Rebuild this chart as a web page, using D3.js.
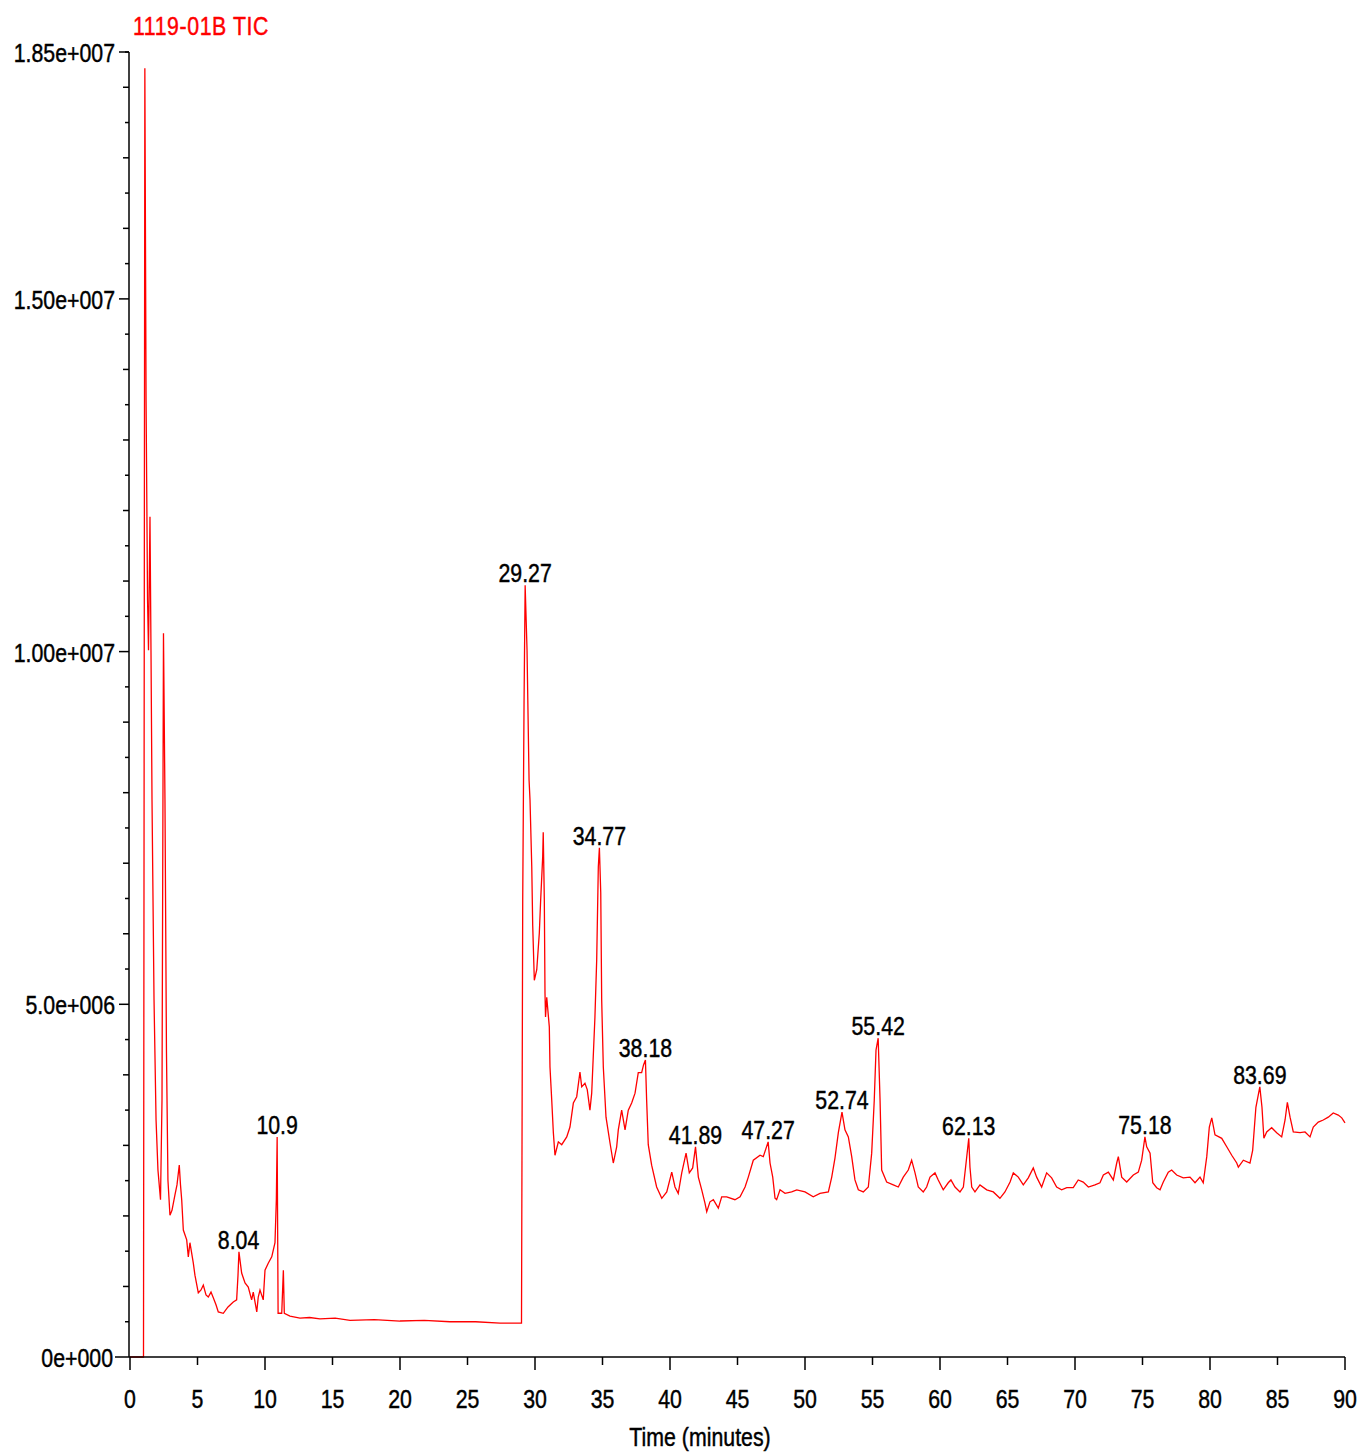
<!DOCTYPE html>
<html>
<head>
<meta charset="utf-8">
<script src="https://cdn.jsdelivr.net/npm/d3@7"></script>
<style>
  html, body { margin: 0; padding: 0; background: #fff; }
  svg text { font-family: "Liberation Sans", Arial, sans-serif; }
</style>
</head>
<body>
<svg id="chart" width="1361" height="1452"></svg>
<script>
// ---- data ----
const chartTitle = "1119-01B TIC";
const xAxisTitle = "Time (minutes)";
const xTickValues = [0,5,10,15,20,25,30,35,40,45,50,55,60,65,70,75,80,85,90];
const yTickValues = [0, 5.0e6, 1.0e7, 1.5e7, 1.85e7];
const yTickLabels = ["0e+000", "5.0e+006", "1.00e+007", "1.50e+007", "1.85e+007"];
// [time (min), intensity (counts)]
const trace = [
[0,0],[1.00,0],[1.10,18.27e6],[1.19,13.57e6],[1.30,10.73e6],[1.37,10.02e6],[1.48,11.91e6],[1.56,9.88e6],
[1.63,7.90e6],[1.78,5.06e6],[1.93,3.36e6],[2.07,2.65e6],[2.26,2.23e6],[2.37,3.64e6],[2.48,10.26e6],[2.59,7.90e6],
[2.70,4.35e6],[2.81,2.51e6],[2.96,2.01e6],[3.11,2.08e6],[3.33,2.30e6],[3.48,2.44e6],[3.65,2.72e6],[3.74,2.44e6],
[3.83,2.23e6],[3.95,1.80e6],[4.20,1.66e6],[4.32,1.42e6],[4.44,1.62e6],[4.69,1.33e6],[4.81,1.16e6],[5.06,0.91e6],
[5.26,0.95e6],[5.43,1.02e6],[5.63,0.88e6],[5.80,0.85e6],[6.00,0.92e6],[6.17,0.84e6],[6.37,0.74e6],[6.54,0.64e6],
[6.91,0.62e6],[7.26,0.71e6],[7.65,0.78e6],[7.90,0.81e6],[8.00,1.16e6],[8.07,1.49e6],[8.27,1.19e6],[8.52,1.05e6],
[8.76,0.99e6],[9.01,0.81e6],[9.13,0.92e6],[9.39,0.64e6],[9.50,0.85e6],[9.63,0.95e6],[9.87,0.81e6],[10.00,1.23e6],
[10.24,1.33e6],[10.50,1.42e6],[10.74,1.62e6],[10.84,2.23e6],[10.90,3.12e6],[10.97,0.62e6],[11.24,0.62e6],[11.36,1.23e6],
[11.43,0.62e6],[11.85,0.58e6],[12.59,0.55e6],[13.30,0.56e6],[14.07,0.54e6],[15.20,0.55e6],[16.30,0.52e6],[18.10,0.53e6],
[20.00,0.51e6],[21.80,0.52e6],[23.70,0.50e6],[25.60,0.50e6],[27.41,0.48e6],
[29.00,0.48e6],[29.09,6.48e6],[29.19,9.31e6],[29.27,10.94e6],[29.41,10.02e6],[29.56,8.18e6],[29.63,7.90e6],[29.76,6.95e6],
[29.83,6.12e6],[29.95,5.34e6],[30.13,5.49e6],[30.32,6.01e6],[30.42,6.48e6],[30.57,7.09e6],[30.61,7.44e6],[30.69,6.48e6],
[30.74,5.16e6],[30.78,4.82e6],[30.87,5.10e6],[31.06,4.68e6],[31.11,4.11e6],[31.24,3.64e6],[31.36,3.18e6],[31.48,2.86e6],
[31.73,3.05e6],[31.98,3.01e6],[32.35,3.12e6],[32.59,3.26e6],[32.84,3.60e6],[33.09,3.69e6],[33.33,4.04e6],[33.46,3.83e6],
[33.70,3.88e6],[33.87,3.79e6],[34.07,3.50e6],[34.20,3.74e6],[34.44,4.82e6],[34.57,5.63e6],[34.69,6.95e6],[34.77,7.22e6],
[34.87,6.58e6],[34.94,5.06e6],[35.06,4.11e6],[35.26,3.40e6],[35.56,3.03e6],[35.80,2.75e6],[36.05,2.98e6],[36.17,3.22e6],
[36.42,3.50e6],[36.67,3.22e6],[36.91,3.50e6],[37.16,3.60e6],[37.41,3.74e6],[37.65,4.03e6],[37.90,4.03e6],[38.04,4.14e6],
[38.18,4.21e6],[38.27,3.64e6],[38.39,3.01e6],[38.64,2.72e6],[39.01,2.41e6],[39.39,2.25e6],[39.76,2.34e6],[40.13,2.62e6],
[40.37,2.41e6],[40.61,2.32e6],[40.87,2.61e6],[41.19,2.89e6],[41.43,2.61e6],[41.68,2.68e6],[41.89,2.98e6],[42.10,2.55e6],
[42.35,2.37e6],[42.59,2.18e6],[42.72,2.06e6],[42.96,2.20e6],[43.21,2.23e6],[43.58,2.11e6],[43.83,2.27e6],[44.20,2.27e6],
[44.81,2.23e6],[45.19,2.27e6],[45.56,2.41e6],[45.80,2.55e6],[46.17,2.79e6],[46.67,2.86e6],[46.91,2.84e6],[47.27,3.05e6],
[47.41,2.75e6],[47.61,2.55e6],[47.78,2.25e6],[47.90,2.23e6],[48.15,2.37e6],[48.52,2.32e6],[49.01,2.34e6],[49.39,2.37e6],
[50.00,2.34e6],[50.61,2.27e6],[51.11,2.32e6],[51.73,2.34e6],[51.98,2.55e6],[52.22,2.82e6],[52.47,3.18e6],[52.74,3.47e6],
[52.96,3.22e6],[53.21,3.12e6],[53.46,2.84e6],[53.70,2.51e6],[53.95,2.37e6],[54.32,2.34e6],[54.69,2.41e6],[54.94,2.89e6],
[55.13,3.64e6],[55.26,4.35e6],[55.42,4.52e6],[55.56,3.64e6],[55.68,2.65e6],[56.05,2.48e6],[56.54,2.44e6],[56.91,2.41e6],
[57.28,2.55e6],[57.65,2.65e6],[57.90,2.79e6],[58.15,2.61e6],[58.39,2.41e6],[58.76,2.34e6],[59.01,2.41e6],[59.26,2.55e6],
[59.63,2.61e6],[59.87,2.51e6],[60.24,2.37e6],[60.61,2.47e6],[60.81,2.51e6],[61.11,2.41e6],[61.48,2.34e6],[61.73,2.41e6],
[61.93,2.75e6],[62.13,3.10e6],[62.22,2.69e6],[62.35,2.41e6],[62.59,2.34e6],[62.96,2.44e6],[63.46,2.37e6],[63.95,2.34e6],
[64.44,2.25e6],[64.81,2.34e6],[65.19,2.48e6],[65.43,2.61e6],[65.80,2.55e6],[66.17,2.44e6],[66.54,2.54e6],[66.91,2.68e6],
[67.16,2.55e6],[67.53,2.41e6],[67.90,2.61e6],[68.27,2.54e6],[68.64,2.41e6],[69.01,2.37e6],[69.39,2.40e6],[69.87,2.40e6],
[70.24,2.51e6],[70.61,2.48e6],[70.99,2.41e6],[71.48,2.44e6],[71.85,2.47e6],[72.10,2.58e6],[72.47,2.62e6],[72.84,2.51e6],
[73.09,2.75e6],[73.21,2.84e6],[73.46,2.55e6],[73.83,2.48e6],[74.32,2.58e6],[74.69,2.62e6],[74.94,2.79e6],[75.18,3.12e6],
[75.31,2.98e6],[75.56,2.89e6],[75.76,2.47e6],[76.05,2.40e6],[76.30,2.37e6],[76.54,2.48e6],[76.91,2.62e6],[77.16,2.65e6],
[77.53,2.58e6],[78.02,2.54e6],[78.52,2.55e6],[78.89,2.47e6],[79.26,2.55e6],[79.50,2.47e6],[79.76,2.84e6],[79.95,3.26e6],
[80.13,3.39e6],[80.37,3.15e6],[80.87,3.10e6],[81.24,2.98e6],[81.61,2.86e6],[81.98,2.75e6],[82.10,2.69e6],[82.47,2.79e6],
[82.96,2.75e6],[83.16,2.93e6],[83.40,3.54e6],[83.69,3.83e6],[83.85,3.54e6],[83.99,3.10e6],[84.20,3.19e6],[84.57,3.25e6],
[84.94,3.18e6],[85.31,3.12e6],[85.56,3.36e6],[85.73,3.61e6],[85.93,3.40e6],[86.17,3.19e6],[86.67,3.18e6],[87.04,3.19e6],
[87.41,3.12e6],[87.65,3.26e6],[88.02,3.33e6],[88.39,3.36e6],[88.76,3.40e6],[89.13,3.46e6],[89.50,3.43e6],[89.76,3.39e6],
[90.00,3.32e6]
];
const peakTimes  = [8.04, 10.9, 29.27, 34.77, 38.18, 41.89, 47.27, 52.74, 55.42, 62.13, 75.18, 83.69];
const peakLabels = ["8.04","10.9","29.27","34.77","38.18","41.89","47.27","52.74","55.42","62.13","75.18","83.69"];

// ---- layout ----
const svg = d3.select("#chart");
const x = d3.scaleLinear().domain([0, 90]).range([130, 1345]);
const y = d3.scaleLinear().domain([0, 1.85e7]).range([1357, 52]);
const AX = 129;

// condensed text: Liberation Sans squeezed horizontally, slightly heavier
function label(px, py, str, anchor, color, spacing) {
  svg.append("g").attr("transform", `translate(${px},${py}) scale(0.82,1)`)
    .append("text").attr("x", 0).attr("y", 0).attr("text-anchor", anchor)
    .attr("font-size", 26).attr("fill", color)
    .attr("stroke", color).attr("stroke-width", 0.45)
    .attr("letter-spacing", spacing || 0).text(str);
}

// title
label(133, 35, chartTitle, "start", "#ff0000", 0.7);

// trace
const line = d3.line().x(d => x(d[0])).y(d => y(d[1]));
svg.append("path").datum(trace).attr("d", line)
  .attr("fill", "none").attr("stroke", "#ff0000").attr("stroke-width", 1.3);

// y axis
const g = svg.append("g").attr("stroke", "#000");
g.append("line").attr("x1", AX).attr("x2", AX).attr("y1", y(1.85e7)).attr("y2", y(0)).attr("stroke-width", 1.5);
const minorY = d3.range(0, 38).map(i => i * 5e5);
minorY.forEach(v => {
  const isLabel = yTickValues.includes(v);
  const len = v === 0 ? 14 : isLabel ? 10 : (v % 1e6 === 0 ? 6 : 4);
  g.append("line").attr("x1", AX - len).attr("x2", AX).attr("y1", y(v)).attr("y2", y(v)).attr("stroke-width", 1.5);
});
g.append("line").attr("x1", AX - 4).attr("x2", AX).attr("y1", y(1.85e7)).attr("y2", y(1.85e7)).attr("stroke-width", 1.5);
yTickValues.forEach((v, i) => {
  label(v === 0 ? 113 : 115, y(v) + 10, yTickLabels[i], "end", "#000");
});

// x axis
g.append("line").attr("x1", AX).attr("x2", x(90)).attr("y1", y(0)).attr("y2", y(0)).attr("stroke-width", 1.5);
xTickValues.forEach(v => {
  const len = v % 10 === 0 ? 13 : 8;
  g.append("line").attr("x1", x(v)).attr("x2", x(v)).attr("y1", y(0)).attr("y2", y(0) + len).attr("stroke-width", 1.5);
  label(x(v), 1408, String(v), "middle", "#000");
});
label(700, 1446, xAxisTitle, "middle", "#000");

// peak labels
peakTimes.forEach((t, i) => {
  const near = trace.filter(d => Math.abs(d[0] - t) <= 0.2);
  const top = d3.max(near, d => d[1]);
  label(x(t), y(top) - 3, peakLabels[i], "middle", "#000");
});
</script>
</body>
</html>
